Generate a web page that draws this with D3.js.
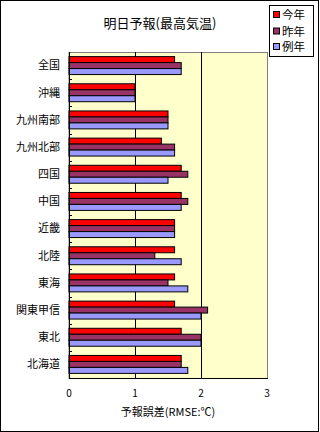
<!DOCTYPE html>
<html>
<head>
<meta charset="utf-8">
<script src="https://cdn.jsdelivr.net/npm/d3@7"></script>
<style>
  body { margin: 0; background: #fff; }
  text { font-family: "Noto Sans CJK JP", "DejaVu Sans", sans-serif; fill: #000; }
</style>
</head>
<body>
<div id="chart"></div>
<script>
// regions, top to bottom
var regions = ["全国", "沖縄", "九州南部", "九州北部", "四国", "中国", "近畿", "北陸", "東海", "関東甲信", "東北", "北海道"];
var series = ["今年", "昨年", "例年"];
var colors = ["#ff0000", "#993366", "#9999ff"];

// RMSE (℃)
var thisYear = [1.6, 1.0, 1.5, 1.4, 1.7, 1.7, 1.6, 1.6, 1.6, 1.6, 1.7, 1.7];
var lastYear = [1.7, 1.0, 1.5, 1.6, 1.8, 1.8, 1.6, 1.3, 1.5, 2.1, 2.0, 1.7];
var normal   = [1.7, 1.0, 1.5, 1.6, 1.5, 1.7, 1.6, 1.7, 1.8, 2.0, 2.0, 1.8];
var xTicks = [0, 1, 2, 3];

var W = 320, H = 432;
var pLeft = 69, pRight = 267, pTop = 52, pBottom = 378;

var svg = d3.select("#chart").append("svg").attr("width", W).attr("height", H);

// outer frame
svg.append("rect").attr("x", 0.5).attr("y", 0.5).attr("width", 318).attr("height", 431)
    .attr("fill", "#fff").attr("stroke", "#000");

var x = d3.scaleLinear().domain([0, 3]).range([pLeft, pRight]);
var y = d3.scaleBand().domain(regions).range([pTop, pBottom]).paddingInner(0.34).paddingOuter(0.17);
var ySub = d3.scaleBand().domain(series).range([0, y.bandwidth()]);

// plot area
svg.append("rect").attr("x", pLeft).attr("y", pTop + 0.5).attr("width", pRight - pLeft + 0.5).attr("height", pBottom - pTop)
    .attr("fill", "#ffffcc").attr("stroke", "#808080");

// grid lines
svg.selectAll(".grid").data([1, 2]).enter().append("line")
    .attr("x1", function (d) { return Math.round(x(d)) + 0.5; })
    .attr("x2", function (d) { return Math.round(x(d)) + 0.5; })
    .attr("y1", pTop).attr("y2", pBottom)
    .attr("stroke", "#000");

var data = regions.map(function (r, i) {
    return { region: r, vals: [thisYear[i], lastYear[i], normal[i]] };
});

var g = svg.selectAll(".grp").data(data).enter().append("g")
    .attr("transform", function (d) { return "translate(0," + y(d.region) + ")"; });

g.selectAll("rect").data(function (d) {
    return d.vals.map(function (v, k) { return { s: series[k], v: v, c: colors[k] }; });
}).enter().append("rect")
    .attr("x", x(0))
    .attr("y", function (d) { return ySub(d.s); })
    .attr("width", function (d) { return x(d.v) - x(0); })
    .attr("height", ySub.bandwidth())
    .attr("fill", function (d) { return d.c; })
    .attr("stroke", "#000").attr("stroke-width", 1);

// axes lines
svg.append("line").attr("x1", pLeft + 0.5).attr("x2", pLeft + 0.5).attr("y1", pTop).attr("y2", pBottom + 1).attr("stroke", "#000");
svg.append("line").attr("x1", pLeft).attr("x2", pRight + 1).attr("y1", pBottom + 0.5).attr("y2", pBottom + 0.5).attr("stroke", "#000");

// small y ticks between categories
var step = y.step();
svg.selectAll(".yt").data(d3.range(1, regions.length)).enter().append("line")
    .attr("x1", pLeft).attr("x2", pLeft + 3)
    .attr("y1", function (d) { return Math.round(pTop + d * step) + 0.5; })
    .attr("y2", function (d) { return Math.round(pTop + d * step) + 0.5; })
    .attr("stroke", "#000");

// category labels
svg.selectAll(".ylab").data(regions).enter().append("text")
    .attr("x", 60)
    .attr("y", function (d) { return y(d) + y.bandwidth() / 2; })
    .attr("dy", "0.35em")
    .attr("text-anchor", "end")
    .attr("font-size", 11)
    .text(function (d) { return d; });

// x tick labels
svg.selectAll(".xlab").data(xTicks).enter().append("text")
    .attr("x", function (d) { return x(d); })
    .attr("y", 393)
    .attr("dy", "0.35em")
    .attr("text-anchor", "middle")
    .attr("font-size", 10)
    .text(function (d) { return d; });

svg.append("text").attr("x", 168).attr("y", 412).attr("dy", "0.35em")
    .attr("text-anchor", "middle").attr("font-size", 11)
    .text("予報誤差(RMSE:℃)");

// title
svg.append("text").attr("x", 160).attr("y", 23).attr("dy", "0.35em")
    .attr("text-anchor", "middle").attr("font-size", 13)
    .text("明日予報(最高気温)");

// legend
var lg = svg.append("g");
lg.append("rect").attr("x", 269.5).attr("y", 5.5).attr("width", 44).attr("height", 51)
    .attr("fill", "#fff").attr("stroke", "#000");
var ly = [15, 31.5, 47];
series.forEach(function (s, k) {
    lg.append("rect").attr("x", 273.5).attr("y", ly[k] - 3.5).attr("width", 6).attr("height", 6)
        .attr("fill", colors[k]).attr("stroke", "#000");
    lg.append("text").attr("x", 282).attr("y", ly[k]).attr("dy", "0.35em")
        .attr("font-size", 11.5).text(s);
});
</script>
</body>
</html>
